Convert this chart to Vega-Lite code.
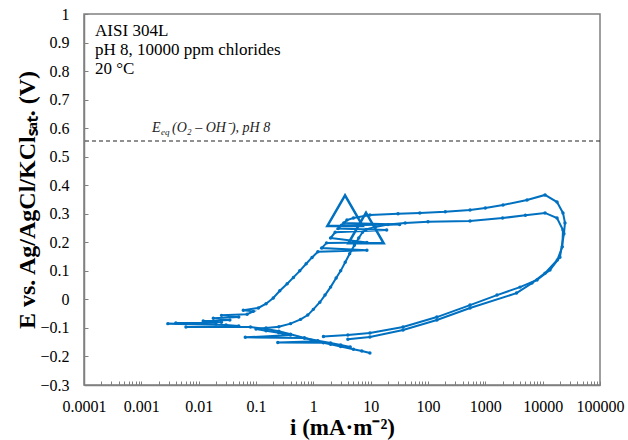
{
  "$schema": "https://vega.github.io/schema/vega-lite/v6.json",
  "width": 516,
  "height": 371,
  "autosize": {"type": "none"},
  "padding": {"left": 84, "top": 14, "right": 28, "bottom": 55},
  "background": "white",
  "config": {
    "view": {"stroke": "#808080", "strokeWidth": 1.5},
    "font": "Liberation Serif",
    "axis": {"labelFont": "Liberation Serif", "titleFont": "Liberation Serif", "labelColor": "#000", "titleColor": "#000", "grid": false, "domainColor": "#808080", "domainWidth": 1.5, "tickColor": "#808080", "labelOverlap": false, "labelFlush": false, "labelBound": false}
  },
  "datasets": {
    "curves": [
      {"s": "A", "o": 1, "i": 9.7, "E": -0.188},
      {"s": "A", "o": 2, "i": 7, "E": -0.181},
      {"s": "A", "o": 3, "i": 5, "E": -0.175},
      {"s": "A", "o": 4, "i": 3, "E": -0.165},
      {"s": "A", "o": 5, "i": 2, "E": -0.157},
      {"s": "A", "o": 6, "i": 1.5, "E": -0.152},
      {"s": "A", "o": 7, "i": 0.24, "E": -0.151},
      {"s": "A", "o": 8, "i": 1.2, "E": -0.147},
      {"s": "A", "o": 9, "i": 0.7, "E": -0.135},
      {"s": "A", "o": 10, "i": 0.4, "E": -0.122},
      {"s": "A", "o": 11, "i": 0.25, "E": -0.112},
      {"s": "A", "o": 12, "i": 0.15, "E": -0.104},
      {"s": "A", "o": 13, "i": 0.08, "E": -0.097},
      {"s": "A", "o": 14, "i": 0.006, "E": -0.097},
      {"s": "A", "o": 15, "i": 0.05, "E": -0.093},
      {"s": "A", "o": 16, "i": 0.03, "E": -0.09},
      {"s": "A", "o": 17, "i": 0.0029, "E": -0.085},
      {"s": "A", "o": 18, "i": 0.02, "E": -0.086},
      {"s": "A", "o": 19, "i": 0.004, "E": -0.083},
      {"s": "A", "o": 20, "i": 0.025, "E": -0.08},
      {"s": "A", "o": 21, "i": 0.012, "E": -0.076},
      {"s": "A", "o": 22, "i": 0.035, "E": -0.072},
      {"s": "A", "o": 23, "i": 0.018, "E": -0.066},
      {"s": "A", "o": 24, "i": 0.05, "E": -0.062},
      {"s": "A", "o": 25, "i": 0.025, "E": -0.056},
      {"s": "A", "o": 26, "i": 0.07, "E": -0.052},
      {"s": "A", "o": 27, "i": 0.09, "E": -0.042},
      {"s": "A", "o": 28, "i": 0.06, "E": -0.038},
      {"s": "A", "o": 29, "i": 0.11, "E": -0.03},
      {"s": "A", "o": 30, "i": 0.15, "E": -0.015},
      {"s": "A", "o": 31, "i": 0.2, "E": 0.005},
      {"s": "A", "o": 32, "i": 0.26, "E": 0.03},
      {"s": "A", "o": 33, "i": 0.35, "E": 0.055},
      {"s": "A", "o": 34, "i": 0.45, "E": 0.077},
      {"s": "A", "o": 35, "i": 0.58, "E": 0.1},
      {"s": "A", "o": 36, "i": 0.75, "E": 0.125},
      {"s": "A", "o": 37, "i": 0.95, "E": 0.147},
      {"s": "A", "o": 38, "i": 1.2, "E": 0.167},
      {"s": "A", "o": 39, "i": 8.6, "E": 0.172},
      {"s": "A", "o": 40, "i": 1.4, "E": 0.18},
      {"s": "A", "o": 41, "i": 1.7, "E": 0.198},
      {"s": "A", "o": 42, "i": 8.6, "E": 0.199},
      {"s": "A", "o": 43, "i": 2.0, "E": 0.215},
      {"s": "A", "o": 44, "i": 2.4, "E": 0.235},
      {"s": "A", "o": 45, "i": 19, "E": 0.243},
      {"s": "A", "o": 46, "i": 2.7, "E": 0.248},
      {"s": "A", "o": 47, "i": 3.1, "E": 0.26},
      {"s": "A", "o": 48, "i": 32, "E": 0.262},
      {"s": "A", "o": 49, "i": 3.4, "E": 0.268},
      {"s": "A", "o": 50, "i": 3.86, "E": 0.278},
      {"s": "A", "o": 51, "i": 5, "E": 0.285},
      {"s": "A", "o": 52, "i": 9.7, "E": 0.296},
      {"s": "A", "o": 53, "i": 30, "E": 0.3},
      {"s": "A", "o": 54, "i": 72, "E": 0.303},
      {"s": "A", "o": 55, "i": 200, "E": 0.307},
      {"s": "A", "o": 56, "i": 541, "E": 0.313},
      {"s": "A", "o": 57, "i": 1000, "E": 0.32},
      {"s": "A", "o": 58, "i": 2037, "E": 0.331},
      {"s": "A", "o": 59, "i": 5340, "E": 0.348},
      {"s": "A", "o": 60, "i": 11000, "E": 0.366},
      {"s": "A", "o": 61, "i": 17800, "E": 0.341},
      {"s": "A", "o": 62, "i": 22600, "E": 0.303},
      {"s": "A", "o": 63, "i": 24500, "E": 0.268},
      {"s": "A", "o": 64, "i": 23500, "E": 0.23},
      {"s": "A", "o": 65, "i": 20000, "E": 0.148},
      {"s": "A", "o": 66, "i": 13400, "E": 0.103},
      {"s": "A", "o": 67, "i": 7970, "E": 0.068},
      {"s": "A", "o": 68, "i": 4030, "E": 0.043},
      {"s": "A", "o": 69, "i": 1600, "E": 0.015},
      {"s": "A", "o": 70, "i": 541, "E": -0.02},
      {"s": "A", "o": 71, "i": 143, "E": -0.062},
      {"s": "A", "o": 72, "i": 36.7, "E": -0.097},
      {"s": "A", "o": 73, "i": 9.7, "E": -0.118},
      {"s": "A", "o": 74, "i": 4, "E": -0.125},
      {"s": "A", "o": 75, "i": 1.5, "E": -0.13},
      {"s": "B", "o": 1, "i": 4.4, "E": -0.167},
      {"s": "B", "o": 2, "i": 3, "E": -0.16},
      {"s": "B", "o": 3, "i": 2, "E": -0.153},
      {"s": "B", "o": 4, "i": 1.2, "E": -0.145},
      {"s": "B", "o": 5, "i": 0.7, "E": -0.135},
      {"s": "B", "o": 6, "i": 0.065, "E": -0.133},
      {"s": "B", "o": 7, "i": 0.4, "E": -0.125},
      {"s": "B", "o": 8, "i": 0.25, "E": -0.117},
      {"s": "B", "o": 9, "i": 0.15, "E": -0.11},
      {"s": "B", "o": 10, "i": 0.1, "E": -0.104},
      {"s": "B", "o": 11, "i": 0.15, "E": -0.1},
      {"s": "B", "o": 12, "i": 0.25, "E": -0.096},
      {"s": "B", "o": 13, "i": 0.4, "E": -0.085},
      {"s": "B", "o": 14, "i": 0.6, "E": -0.07},
      {"s": "B", "o": 15, "i": 0.8, "E": -0.055},
      {"s": "B", "o": 16, "i": 1, "E": -0.035},
      {"s": "B", "o": 17, "i": 1.3, "E": -0.01},
      {"s": "B", "o": 18, "i": 1.6, "E": 0.015},
      {"s": "B", "o": 19, "i": 2, "E": 0.043},
      {"s": "B", "o": 20, "i": 2.5, "E": 0.075},
      {"s": "B", "o": 21, "i": 3, "E": 0.1},
      {"s": "B", "o": 22, "i": 3.6, "E": 0.13},
      {"s": "B", "o": 23, "i": 4.3, "E": 0.16},
      {"s": "B", "o": 24, "i": 5.2, "E": 0.19},
      {"s": "B", "o": 25, "i": 6.2, "E": 0.215},
      {"s": "B", "o": 26, "i": 7.2, "E": 0.235},
      {"s": "B", "o": 27, "i": 8.3, "E": 0.245},
      {"s": "B", "o": 28, "i": 12, "E": 0.254},
      {"s": "B", "o": 29, "i": 20, "E": 0.262},
      {"s": "B", "o": 30, "i": 40, "E": 0.268},
      {"s": "B", "o": 31, "i": 100, "E": 0.272},
      {"s": "B", "o": 32, "i": 541, "E": 0.275},
      {"s": "B", "o": 33, "i": 2000, "E": 0.285},
      {"s": "B", "o": 34, "i": 5000, "E": 0.295},
      {"s": "B", "o": 35, "i": 11000, "E": 0.303},
      {"s": "B", "o": 36, "i": 17800, "E": 0.285},
      {"s": "B", "o": 37, "i": 22600, "E": 0.243},
      {"s": "B", "o": 38, "i": 22000, "E": 0.184},
      {"s": "B", "o": 39, "i": 18000, "E": 0.138},
      {"s": "B", "o": 40, "i": 11000, "E": 0.092},
      {"s": "B", "o": 41, "i": 6500, "E": 0.057},
      {"s": "B", "o": 42, "i": 3500, "E": 0.022},
      {"s": "B", "o": 43, "i": 541, "E": -0.03},
      {"s": "B", "o": 44, "i": 143, "E": -0.072},
      {"s": "B", "o": 45, "i": 36.7, "E": -0.107},
      {"s": "B", "o": 46, "i": 9.7, "E": -0.132},
      {"s": "B", "o": 47, "i": 4, "E": -0.14}
    ],
    "pits": [
      {"i": 3.57, "E": 0.311},
      {"i": 8.3, "E": 0.25}
    ]
  },
  "layer": [
    {
      "data": {"name": "curves"},
      "mark": {"type": "line", "color": "#0070C0", "strokeWidth": 2, "point": {"filled": true, "size": 12, "color": "#0070C0"}},
      "encoding": {
        "x": {
          "field": "i", "type": "quantitative",
          "scale": {"type": "log", "domain": [0.0001, 100000], "nice": false},
          "axis": {
            "values": [0.0001,0.0002,0.0003,0.0004,0.0005,0.0006,0.0007,0.0008,0.0009,
                       0.001,0.002,0.003,0.004,0.005,0.006,0.007,0.008,0.009,
                       0.01,0.02,0.03,0.04,0.05,0.06,0.07,0.08,0.09,
                       0.1,0.2,0.3,0.4,0.5,0.6,0.7,0.8,0.9,
                       1,2,3,4,5,6,7,8,9,
                       10,20,30,40,50,60,70,80,90,
                       100,200,300,400,500,600,700,800,900,
                       1000,2000,3000,4000,5000,6000,7000,8000,9000,
                       10000,20000,30000,40000,50000,60000,70000,80000,90000,100000],
            "tickCount": 200,
            "labelExpr": "abs(log(datum.value)/LN10 - round(log(datum.value)/LN10)) < 0.000001 ? format(datum.value, '~g') : ''",
            "labelOverlap": false,
            "labelFlush": false,
            "labelFont": "Liberation Serif",
            "labelFontSize": 16,
            "labelPadding": 17,
            "tickSize": -4,
            "title": "i (mA·m⁻²)",
            "titleFont": "Liberation Serif",
            "titleFontSize": 23,
            "titleFontWeight": "bold",
            "titlePadding": 2
          }
        },
        "y": {
          "field": "E", "type": "quantitative",
          "scale": {"domain": [-0.3, 1], "nice": false, "zero": false},
          "axis": {
            "values": [-0.3,-0.2,-0.1,0,0.1,0.2,0.3,0.4,0.5,0.6,0.7,0.8,0.9,1],
            "tickCount": 50,
            "format": "~g",
            "labelOverlap": false,
            "labelFlush": false,
            "labelFont": "Liberation Serif",
            "labelFontSize": 16,
            "labelPadding": 19,
            "tickSize": -4,
            "title": "E vs. Ag/AgCl/KClₛₐₜ. (V)",
            "titleFont": "Liberation Serif",
            "titleFontSize": 24,
            "titleFontWeight": "bold",
            "titlePadding": 0
          }
        },
        "detail": {"field": "s", "type": "nominal"},
        "order": {"field": "o", "type": "quantitative"}
      }
    },
    {
      "data": {"values": [{"E": 0.555}]},
      "mark": {"type": "rule", "color": "#222", "strokeWidth": 1.2, "strokeDash": [4, 3]},
      "encoding": {"y": {"field": "E", "type": "quantitative"}}
    },
    {
      "data": {"name": "pits"},
      "mark": {"type": "point", "shape": "triangle-up", "filled": false, "size": 1250, "strokeWidth": 2.5, "color": "#0070C0", "opacity": 1},
      "encoding": {
        "x": {"field": "i", "type": "quantitative"},
        "y": {"field": "E", "type": "quantitative"}
      }
    },
    {
      "data": {"values": [
        {"i": 0.000156, "E": 0.940, "t": "AISI 304L"},
        {"i": 0.000156, "E": 0.874, "t": "pH 8, 10000 ppm chlorides"},
        {"i": 0.000156, "E": 0.807, "t": "20 °C"}
      ]},
      "mark": {"type": "text", "align": "left", "baseline": "middle", "fontSize": 17, "font": "Liberation Serif", "color": "#000"},
      "encoding": {
        "x": {"field": "i", "type": "quantitative"},
        "y": {"field": "E", "type": "quantitative"},
        "text": {"field": "t"}
      }
    },
    {
      "data": {"values": [{"i": 0.00153, "E": 0.586, "t": "E"}]},
      "mark": {"type": "text", "align": "left", "baseline": "alphabetic", "fontSize": 14, "fontStyle": "italic", "font": "Liberation Serif", "color": "#222"},
      "encoding": {
        "x": {"field": "i", "type": "quantitative"},
        "y": {"field": "E", "type": "quantitative"},
        "text": {"field": "t"}
      }
    },
    {
      "data": {"values": [{"i": 0.0022, "E": 0.586, "t": "eq"}]},
      "mark": {"type": "text", "align": "left", "baseline": "alphabetic", "dy": 3, "fontSize": 9, "fontStyle": "italic", "font": "Liberation Serif", "color": "#222"},
      "encoding": {
        "x": {"field": "i", "type": "quantitative"},
        "y": {"field": "E", "type": "quantitative"},
        "text": {"field": "t"}
      }
    },
    {
      "data": {"values": [{"i": 0.00343, "E": 0.586, "t": "(O₂ – OH⁻), pH 8"}]},
      "mark": {"type": "text", "align": "left", "baseline": "alphabetic", "fontSize": 14, "fontStyle": "italic", "font": "Liberation Serif", "color": "#222"},
      "encoding": {
        "x": {"field": "i", "type": "quantitative"},
        "y": {"field": "E", "type": "quantitative"},
        "text": {"field": "t"}
      }
    }
  ]
}
